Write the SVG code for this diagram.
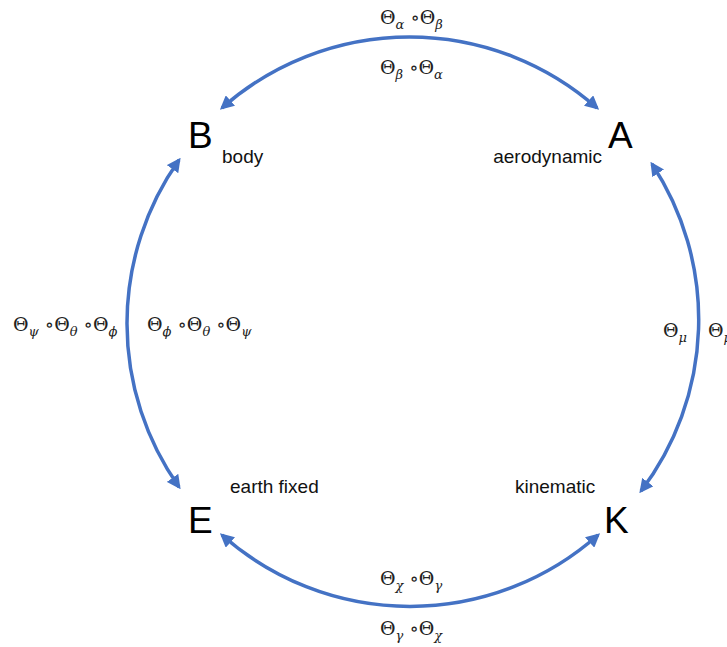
<svg xmlns="http://www.w3.org/2000/svg" width="727" height="647" viewBox="0 0 727 647">
<style>
.arc{fill:none;stroke:#4472C4;stroke-width:3.5;marker-start:url(#ah);marker-end:url(#ah)}
.big{font-family:"Liberation Sans",Arial,sans-serif;font-size:37px;fill:#000}
.lbl{font-family:"Liberation Sans",Arial,sans-serif;font-size:19px;fill:#111}
.m{font-family:"DejaVu Serif","Liberation Serif",serif;font-size:19px;fill:#222}
.s{font-size:13px;font-style:italic}
</style>
<defs>
<marker id="ah" viewBox="0 0 10 10" refX="8" refY="5" markerWidth="4" markerHeight="4" orient="auto-start-reverse" markerUnits="strokeWidth">
<path d="M0,0 L10,5 L0,10 z" fill="#4472C4"/>
</marker>
</defs>
<rect width="727" height="647" fill="#fff"/>
<g id="connectors">
<path class="arc" d="M222,108 A283,283 0 0 1 597,108"/>
<path class="arc" d="M179,160 A283,283 0 0 0 179,487"/>
<path class="arc" d="M652,164 A283,283 0 0 1 641,491"/>
<path class="arc" d="M222,535 A283,283 0 0 0 598,535"/>
</g>
<g id="B"><text class="big" x="188" y="148">B</text><text class="lbl" x="222" y="163">body</text></g>
<g id="A"><text class="big" x="608" y="148">A</text><text class="lbl" x="602" y="163" text-anchor="end">aerodynamic</text></g>
<g id="E"><text class="big" x="188" y="533">E</text><text class="lbl" x="230" y="493">earth fixed</text></g>
<g id="K"><text class="big" x="604" y="533">K</text><text class="lbl" x="515" y="493">kinematic</text></g>
<g id="labels">
<text class="m" x="380" y="24">Θ<tspan class="s" dy="5">α</tspan><tspan dy="-5"> ∘Θ</tspan><tspan class="s" dy="5">β</tspan></text>
<text class="m" x="380" y="74">Θ<tspan class="s" dy="5">β</tspan><tspan dy="-5"> ∘Θ</tspan><tspan class="s" dy="5">α</tspan></text>
<text class="m" x="13" y="331">Θ<tspan class="s" dy="5">ψ</tspan><tspan dy="-5"> ∘Θ</tspan><tspan class="s" dy="5">θ</tspan><tspan dy="-5"> ∘Θ</tspan><tspan class="s" dy="5">ϕ</tspan></text>
<text class="m" x="147" y="331">Θ<tspan class="s" dy="5">ϕ</tspan><tspan dy="-5"> ∘Θ</tspan><tspan class="s" dy="5">θ</tspan><tspan dy="-5"> ∘Θ</tspan><tspan class="s" dy="5">ψ</tspan></text>
<text class="m" x="663" y="337">Θ<tspan class="s" dy="5">μ</tspan></text>
<text class="m" x="708" y="337">Θ<tspan class="s" dy="5">μ</tspan></text>
<text class="m" x="380" y="585">Θ<tspan class="s" dy="5">χ</tspan><tspan dy="-5"> ∘Θ</tspan><tspan class="s" dy="5">γ</tspan></text>
<text class="m" x="380" y="635">Θ<tspan class="s" dy="5">γ</tspan><tspan dy="-5"> ∘Θ</tspan><tspan class="s" dy="5">χ</tspan></text>
</g>
</svg>
